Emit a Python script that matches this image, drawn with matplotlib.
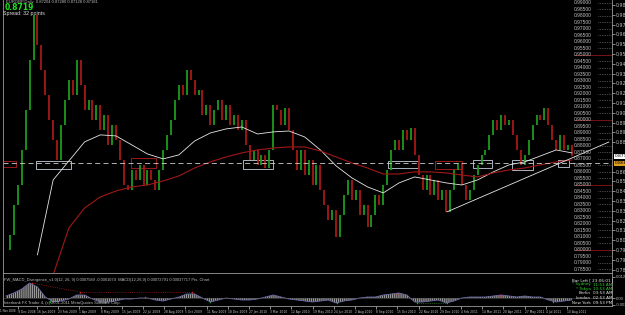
import numpy as np
import matplotlib
matplotlib.use("Agg")
import matplotlib.pyplot as plt
from matplotlib.patches import Rectangle

# ── EURGBP weekly closes, Nov 2008 .. Aug 2011 ──
closes = [0.7998, 0.8113, 0.8344, 0.8498, 0.8768, 0.9076, 0.9461, 0.9807, 0.9576, 0.9384,
          0.9191, 0.8999, 0.8845, 0.8691, 0.8961, 0.9153, 0.9307, 0.9191, 0.9461, 0.9268,
          0.9076, 0.9153, 0.8999, 0.9115, 0.8922, 0.9038, 0.8807, 0.8961, 0.8845, 0.8691,
          0.8498, 0.8460, 0.8614, 0.8537, 0.8653, 0.8498, 0.8614, 0.8537, 0.8460, 0.8614,
          0.8768, 0.8884, 0.8999, 0.9153, 0.9268, 0.9191, 0.9384, 0.9307, 0.9191, 0.9230,
          0.9038, 0.9115, 0.8961, 0.9076, 0.9153, 0.8999, 0.9115, 0.8961, 0.9038, 0.8922,
          0.8999, 0.8807, 0.8691, 0.8768, 0.8653, 0.8730, 0.8629, 0.8768, 0.9115, 0.9076,
          0.8961, 0.9092, 0.8922, 0.8768, 0.8614, 0.8768, 0.8575, 0.8691, 0.8498, 0.8653,
          0.8460, 0.8345, 0.8229, 0.8306, 0.8098, 0.8268, 0.8422, 0.8537, 0.8383, 0.8460,
          0.8268, 0.8345, 0.8175, 0.8268, 0.8422, 0.8345, 0.8498, 0.8614, 0.8768, 0.8845,
          0.8768, 0.8922, 0.8845, 0.8937, 0.8730, 0.8575, 0.8460, 0.8575, 0.8422, 0.8537,
          0.8383, 0.8460, 0.8291, 0.8460, 0.8614, 0.8668, 0.8498, 0.8383, 0.8460, 0.8575,
          0.8653, 0.8730, 0.8768, 0.8884, 0.8999, 0.8922, 0.9038, 0.8961, 0.8999, 0.8884,
          0.8768, 0.8653, 0.8730, 0.8845, 0.8961, 0.9038, 0.8999, 0.9092, 0.8961, 0.8845,
          0.8768, 0.8884, 0.8768, 0.8807, 0.8722]

# moving averages, one value every 4 weeks (nan = not started yet)
ma_fast = [np.nan, np.nan, 0.7960, 0.8537, 0.8683, 0.8830, 0.8884, 0.8876, 0.8807, 0.8737,
           0.8699, 0.8730, 0.8837, 0.8899, 0.8930, 0.8945, 0.8891, 0.8907, 0.8914, 0.8868,
           0.8768, 0.8645, 0.8553, 0.8483, 0.8437, 0.8514, 0.8560, 0.8537, 0.8514, 0.8498,
           0.8537, 0.8599, 0.8653, 0.8676, 0.8722, 0.8768, 0.8745]
ma_slow = [np.nan, np.nan, np.nan, 0.7806, 0.8167, 0.8321, 0.8406, 0.8452, 0.8483, 0.8498,
           0.8529, 0.8568, 0.8629, 0.8676, 0.8714, 0.8745, 0.8768, 0.8783, 0.8791, 0.8791,
           0.8760, 0.8714, 0.8668, 0.8629, 0.8583, 0.8583, 0.8599, 0.8599, 0.8591, 0.8575,
           0.8560, 0.8591, 0.8614, 0.8629, 0.8653, 0.8676, 0.8691]

# MACD histogram, one value every 2 weeks
macd_hist = [0.0010, 0.0025, 0.0045, 0.0075, 0.0055, 0.0005, -0.0020, -0.0015, -0.0005, 0.0015,
             0.0015, -0.0005, -0.0020, -0.0020, -0.0015, -0.0005, -0.0005, 0.0000, 0.0000, -0.0010,
             -0.0015, -0.0005, 0.0005, 0.0020, 0.0020, 0.0000, -0.0020, -0.0010, 0.0000, -0.0005,
             -0.0010, -0.0010, -0.0005, 0.0005, 0.0015, 0.0005, -0.0005, -0.0010, -0.0015, -0.0020,
             -0.0015, -0.0010, -0.0025, -0.0015, -0.0010, 0.0000, 0.0005, 0.0005, 0.0015, 0.0020,
             0.0025, 0.0015, -0.0020, -0.0020, -0.0015, -0.0010, -0.0025, -0.0015, 0.0000, 0.0005,
             0.0005, 0.0005, 0.0010, 0.0015, 0.0010, 0.0005, 0.0010, 0.0005, 0.0005, -0.0010,
             -0.0020, -0.0015, -0.0010]

# divergence arrows on the MACD (week, value)
div_top_wk = [6.6, 18.8, 35.4, 47.3, 99.5, 125.7]
div_top_val = [0.0075, 0.0030, 0.0003, 0.0030, 0.0025, 0.0015]
div_bot_wk = [11.2, 25.2, 51.9, 84.2, 104.6, 112.2, 139.2]
div_bot_val = [-0.0020, -0.0020, -0.0020, -0.0025, -0.0025, -0.0025, -0.0020]

# support / resistance boxes drawn on the chart (weeks, prices)
box_from = [-1.5, 7.6, 31.8, 60.3, 97.2, 109.2, 118.8, 128.8, 140.5]
box_to = [2.5, 16.5, 38.2, 67.9, 104.8, 116.0, 123.7, 134.1, 143.3]
box_hi = [0.8683, 0.8683, 0.8704, 0.8691, 0.8683, 0.8683, 0.8691, 0.8691, 0.8691]
box_lo = [0.8637, 0.8620, 0.8627, 0.8622, 0.8629, 0.8622, 0.8629, 0.8614, 0.8637]
box_red = [True, False, True, False, False, True, False, False, False]

level = 0.8665
last_price = 0.8719
trend_wk = [112.2, 153.4]
trend_px = [0.8291, 0.8829]
round_levels = [0.95, 0.90, 0.85, 0.80]

dates = ["1 Nov 2008", "9 Dec 2008", "16 Jan 2009", "23 Feb 2009", "1 Apr 2009", "8 May 2009",
         "15 Jun 2009", "22 Jul 2009", "28 Aug 2009", "5 Oct 2009", "11 Nov 2009", "18 Dec 2009",
         "27 Jan 2010", "3 Mar 2010", "12 Apr 2010", "19 May 2010", "24 Jun 2010", "2 Aug 2010",
         "8 Sep 2010", "15 Oct 2010", "22 Nov 2010", "29 Dec 2010", "4 Feb 2011", "14 Mar 2011",
         "20 Apr 2011", "27 May 2011", "4 Jul 2011", "10 Aug 2011"]

NARROW = ["Liberation Sans Narrow", "DejaVu Sans"]
plt.rcParams["font.family"] = ["Liberation Sans", "DejaVu Sans"]

W, H = 625, 315
fig = plt.figure(figsize=(W / 100, H / 100), dpi=100, facecolor="black")
ax = fig.add_axes([3 / W, 1 - 273 / H, 609 / W, 273 / H])
axm = fig.add_axes([3 / W, 1 - 306 / H, 609 / W, 32 / H])
XL = (-0.763, 154.2)
for a in (ax, axm):
    a.set_facecolor("black")
    a.set_xlim(*XL)
    for s in a.spines.values():
        s.set_color("#9a9a9a")
        s.set_linewidth(0.6)
    a.spines["top"].set_visible(False)

# ── price bars ──
wk = np.arange(len(closes))
c = np.array(closes)
o = np.r_[c[0], c[:-1]]
up = c >= o
ax.vlines(wk[up], o[up], c[up], color="#1c9a1c", lw=1.3)
ax.vlines(wk[~up], c[~up], o[~up], color="#a81818", lw=1.3)

wk4 = np.arange(0, len(ma_fast) * 4, 4)
ax.plot(wk4, ma_fast, color="#e6e6e6", lw=0.6)
ax.plot(wk4, ma_slow, color="#a01818", lw=0.8)

ax.axhline(level, color="#cfcfcf", lw=0.6, ls=(0, (6, 4)))
for x0, x1, hi, lo, red in zip(box_from, box_to, box_hi, box_lo, box_red):
    ax.add_patch(Rectangle((x0, lo), x1 - x0, hi - lo, fill=False,
                           ec="#b02020" if red else "#c8d0dc", lw=0.6))
ax.plot(trend_wk, trend_px, color="#e8e8e8", lw=0.6, clip_on=False)

ax.set_ylim(0.7820, 0.99231)

# in-chart price labels column with dotted leaders
yt = ax.get_yaxis_transform()
for p in np.arange(0.990, 0.7849, -0.005):
    ax.text(0.9376, p, f"{p:.5f}", transform=yt, ha="left", va="center",
            fontsize=3.5, color="#c0c0c0")
    ax.hlines(p, 0.977, 1.0, transform=yt, color="#8a8a8a", lw=0.5, ls=(0, (1, 1.5)))
for p in round_levels:
    ax.hlines(p, 0.937, 1.0, transform=yt, color="#7a1010", lw=0.7)

# terminal price scale on the right edge (skip ticks hidden under the badges)
ax.yaxis.tick_right()
rt = [v for v in np.arange(0.9885, 0.7820, -0.00755)
      if abs(v - last_price) > 0.004 and abs(v - level) > 0.004]
ax.set_yticks(rt, [f"{v:.4f}" for v in rt])
ax.tick_params(axis="y", colors="#bdbdbd", labelsize=3.4, length=2, width=0.5, pad=0.5)
for lbl in ax.get_yticklabels():
    lbl.set_fontfamily(NARROW)
ax.set_xticks([])
ax.text(1.004, last_price, f"{last_price:.4f}", transform=yt, fontsize=3.2, va="center",
        color="black", family=NARROW,
        bbox=dict(boxstyle="square,pad=0.15", fc="white", ec="none"), clip_on=False)
ax.text(1.004, level, f"{level:.4f}", transform=yt, fontsize=3.2, va="center",
        color="black", family=NARROW,
        bbox=dict(boxstyle="square,pad=0.15", fc="#e0a020", ec="none"), clip_on=False)

# ── MACD panel ──
wk2 = np.arange(0, len(macd_hist) * 2, 2)
axm.fill_between(wk2, 0, macd_hist, facecolor="none", edgecolor="#9a9a9a",
                 hatch="||||||||", lw=0)
axm.plot(wk2, macd_hist, color="#6a6aa8", lw=0.6)
axm.plot(div_top_wk[:2], div_top_val[:2], color="#d02020", lw=0.5, ls=":")
axm.plot([div_top_wk[1], div_top_wk[3]], [div_top_val[1], div_top_val[3]],
         color="#d02020", lw=0.5, ls=":")
axm.plot([div_bot_wk[4], div_bot_wk[5]], [div_bot_val[4], div_bot_val[5]],
         color="#20b020", lw=0.5, ls=":")
axm.scatter(div_top_wk, div_top_val, s=2.5, color="#ff2020", marker="^", lw=0)
axm.scatter(div_bot_wk, div_bot_val, s=2.5, color="#20d020", marker="v", lw=0)
axm.axhline(0, color="#555555", lw=0.4)
axm.set_ylim(-0.004, 0.012)
axm.yaxis.tick_right()
axm.set_yticks([0.0105, 0.0, -0.0034], ["0.0128", "0.00", "-0.0034"])
axm.tick_params(axis="y", colors="#bdbdbd", labelsize=3.0, length=2, width=0.5, pad=0.5)

# date axis: one label every 27 daily bars, the first one pinned to the left edge
pos = [(15.8 + (k - 1) * 21.2 - 6) / 3.93 for k in range(1, len(dates))]
pos[0] = (18.0 - 6) / 3.93
axm.set_xticks(pos, dates[1:])
axm.tick_params(axis="x", colors="#c8c8c8", labelsize=2.2, length=2, width=0.5, pad=0.8)
for lbl in axm.get_xticklabels():
    lbl.set_ha("left")
    lbl.set_fontfamily(NARROW)
fig.text(0.5 / W, 1 - 309.5 / H, dates[0], va="top", ha="left", fontsize=2.0,
         color="#c8c8c8", family=NARROW)

# ── captions ──
def ftext(x, y, s, **kw):
    fig.text(x / W, 1 - y / H, s, va="top", ha="left", **kw)

ftext(6, 0.5, "EURGBP,Daily  0.87204 0.87280 0.87128 0.87181", fontsize=3.0, color="#bdbdbd")
ftext(5, 3, "0.8719", fontsize=5.5, color="#1ee01e", weight="bold", family="DejaVu Sans")
ftext(3, 10.5, "Spread: 32 points", fontsize=3.8, color="#e6e6e6")
ftext(4, 277.5, "FW_MACD_Divergence_v1.0(12, 26, 9) 0.0007589 -0.0001074  MACD(12,26,9) "
      "0.00072791 0.00037717 Pts. Chart", fontsize=2.9, color="#bdbdbd")
ftext(4, 301, "Interbank FX Trader 4, (c) 2001-2011 MetaQuotes Software Corp.",
      fontsize=2.9, color="#bdbdbd")

ftext(572, 278.5, "Bar Left [ 23:06:01 ]", fontsize=3.0, color="#e6e6e6", family=NARROW)
clocks = [("* Sydney", "11:53 AM", "#30d030"), ("* Tokyo", "10:53 AM", "#30d030"),
          ("Berlin", "03:53 AM", "#e6e6e6"), ("London", "02:53 AM", "#e6e6e6"),
          ("New York", "09:53 PM", "#e6e6e6")]
for i, (city, t, col) in enumerate(clocks):
    yy = 282.5 + i * 4.5
    fig.text(591 / W, 1 - yy / H, city, va="top", ha="right", fontsize=3.0, color=col,
             family=NARROW)
    ftext(593, yy, t, fontsize=3.0, color=col, family=NARROW)

fig.savefig("out.png", dpi=100, facecolor="black")
